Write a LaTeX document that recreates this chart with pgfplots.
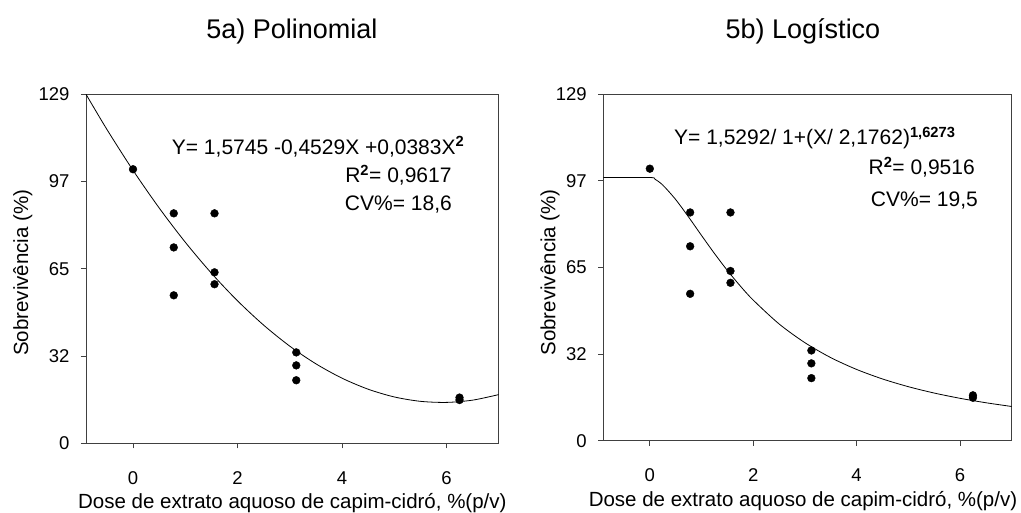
\documentclass[border=0pt]{standalone}
\usepackage{fontspec}
\setmainfont{Liberation Sans}
\usepackage{pgfplots}
\pgfplotsset{compat=1.18}

% observed survival (%) by dose
\pgfplotstableread{
x y
0 101.3
0.78 85.0
0.78 72.4
0.78 54.7
1.56 85.0
1.56 63.2
1.56 58.8
3.125 33.6
3.125 28.8
3.125 23.3
6.25 16.0
6.25 16.9
}\obs

\pgfplotsset{
  panel/.style={
    scale only axis,
    anchor=south west,
    xmin=-0.9, xmax=7,
    ymin=0, ymax=129,
    xtick={0,2,4,6},
    ytick={0,32.25,64.5,96.75,129},
    yticklabels={0,32,65,97,129},
    tick align=outside,
    major tick length=5pt,
    axis line style={black!75, line width=0.9pt},
    every tick/.style={black!75, line width=0.9pt},
    xtick pos=bottom, ytick pos=left,
    tick label style={font=\fontsize{18.5}{20}\selectfont},
    /pgf/number format/assume math mode=true,
    xticklabel style={anchor=base, yshift=-36pt},
    yticklabel style={xshift=-8pt},
    label style={font=\fontsize{20.5}{22}\selectfont},
    clip=true,
  },
  obsmarks/.style={only marks, mark=*, mark size=3.9pt, black},
  fit/.style={black, line width=0.8pt, smooth, no marks},
}

\begin{document}
\begin{tikzpicture}
\useasboundingbox (0,0) rectangle (1021pt,512pt);

\begin{axis}[panel, at={(86pt,68.7pt)}, width=412.7pt, height=349pt,
  xlabel={Dose de extrato aquoso de capim-cidró, \%(p/v)},
  ylabel={Sobrevivência (\%)},
  xlabel style={at={(axis description cs:0.5,-0.188)}, anchor=base},
  ylabel style={at={(axis description cs:-0.153,0.489)}, anchor=center},
]
\addplot[fit] coordinates {
(-0.9,129.02) (-0.5,116.03) (0,100.91) (0.5,87.01) (1,74.34) (1.5,62.89)
(2,52.68) (2.5,43.69) (3,35.92) (3.5,29.39) (4,24.08) (4.5,20.00)
(5,17.14) (5.5,15.52) (6,15.12) (6.5,15.95) (7,18.00)};
\addplot[obsmarks] table[x=x,y=y] {\obs};
\end{axis}

\begin{axis}[panel, at={(603.3pt,71.3pt)}, width=408.4pt, height=346.4pt,
  xlabel={Dose de extrato aquoso de capim-cidró, \%(p/v)},
  ylabel={Sobrevivência (\%)},
  xlabel style={at={(axis description cs:0.489,-0.189)}, anchor=base},
  ylabel style={at={(axis description cs:-0.1305,0.486)}, anchor=center},
]
\addplot[fit] coordinates {
(-0.9,98.01) (0,98.01) (0.1,97.36) (0.25,95.20) (0.5,89.81) (0.75,83.29)
(1,76.44) (1.25,69.72) (1.5,63.40) (1.75,57.61) (2,52.36) (2.5,43.49)
(3,36.50) (3.5,30.94) (4,26.54) (4.5,23.00) (5,20.12) (5.5,17.75)
(6,15.79) (6.5,14.14) (7,12.74)};
\addplot[obsmarks] table[x=x,y=y] {\obs};
\end{axis}

% titles
\node[anchor=base, font=\fontsize{27}{29}\selectfont] at (292pt,473pt) {5a) Polinomial};
\node[anchor=base, font=\fontsize{27}{29}\selectfont] at (803pt,473pt) {5b) Logístico};

% fitted equations
\begin{scope}[every node/.style={font=\fontsize{21}{23}\selectfont, inner sep=0pt}]
\node[anchor=base west] at (171.7pt,357.7pt) {Y= 1,5745 -0,4529X +0,0383X\textsuperscript{\bfseries 2}};
\node[anchor=base east] at (451.7pt,329.3pt) {R\textsuperscript{\bfseries 2}= 0,9617};
\node[anchor=base east] at (452pt,301.3pt) {CV\%= 18,6};
\node[anchor=base west] at (674pt,367pt) {Y= 1,5292/ 1+(X/ 2,1762)\textsuperscript{\bfseries 1,6273}};
\node[anchor=base east] at (975pt,337pt) {R\textsuperscript{\bfseries 2}= 0,9516};
\node[anchor=base east] at (978pt,305.3pt) {CV\%= 19,5};
\end{scope}
\end{tikzpicture}
\end{document}
